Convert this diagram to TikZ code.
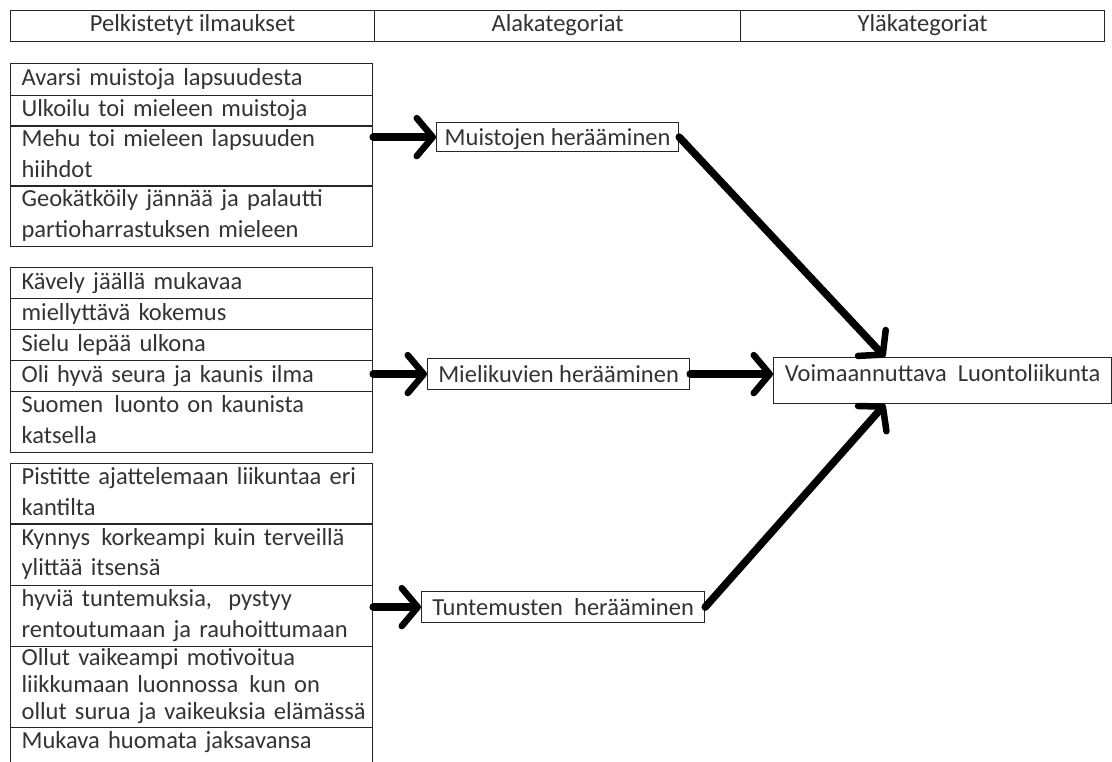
\documentclass[tikz,border=0pt]{standalone}
\usepackage{fontspec}
\setmainfont{Carlito}
\usetikzlibrary{arrows.meta,calc}
\tikzset{
  base/.style={font=\fontsize{24.5}{30.5}\selectfont, text=black!80, draw=black!85, line width=1.2pt},
  cell/.style={base, anchor=north west, text width=340pt, align=left, inner xsep=11pt, inner ysep=0pt},
  head/.style={base, anchor=north west, align=center, inner ysep=0pt, text height=21pt, text depth=10pt},
  catbox/.style={base, anchor=north west, align=center, inner xsep=4pt, inner ysep=0pt, text height=23.5pt, text depth=7.5pt},
  bigarrow/.style={line width=7.5pt, line cap=round, black,
    -{Straight Barb[length=16pt,width=38pt,line width=6.5pt,round]}}
}
\newcommand{\oneline}[1]{\strut #1\strut}
\newcommand{\wsp}{\ \hspace{3pt}}
\begin{document}
\begin{tikzpicture}[x=1pt,y=-1pt]
\useasboundingbox (0,0) rectangle (1112,762);
\clip (0,0) rectangle (1112,762);
% header
\node[head, minimum width=364pt, minimum height=31pt] (h1) at (10,10) {Pelkistetyt ilmaukset};
\node[head, minimum width=366pt, minimum height=31pt] (h2) at (374,10) {Alakategoriat};
\node[head, minimum width=364pt, minimum height=31pt] (h3) at (740,10) {Yläkategoriat};
% group 1
\node[cell, minimum height=32pt] (g1a) at (10,63) {\oneline{Avarsi muistoja lapsuudesta}};
\node[cell, minimum height=30pt] (g1b) at (10,95) {\oneline{Ulkoilu toi mieleen muistoja}};
\node[cell, minimum height=60pt] (g1c) at (10,125) {\strut Mehu toi mieleen lapsuuden\\ hiihdot\strut};
\node[cell, minimum height=60pt] (g1d) at (10,185) {\strut Geokätköily jännää ja palautti\\ partioharrastuksen mieleen\strut};
% group 2
\node[cell, minimum height=31pt] (g2a) at (10,267) {\oneline{Kävely jäällä mukavaa}};
\node[cell, minimum height=31pt] (g2b) at (10,298) {\oneline{miellyttävä kokemus}};
\node[cell, minimum height=31pt] (g2c) at (10,329) {\oneline{Sielu lepää ulkona}};
\node[cell, minimum height=31pt] (g2d) at (10,360) {\oneline{Oli hyvä seura ja kaunis ilma}};
\node[cell, minimum height=60pt] (g2e) at (10,391) {\strut Suomen\wsp luonto on kaunista\\ katsella\strut};
% group 3
\node[cell, minimum height=60pt] (g3a) at (10,463) {\strut\mbox{Pistitte ajattelemaan liikuntaa eri}\\ kantilta\strut};
\node[cell, minimum height=62pt] (g3b) at (10,523) {\strut Kynnys\wsp korkeampi kuin terveillä\\ ylittää itsensä\strut};
\node[cell, minimum height=61pt] (g3c) at (10,585) {\strut hyviä tuntemuksia,\ \ pystyy\\ rentoutumaan ja rauhoittumaan\strut};
\node[cell, minimum height=81pt, font=\fontsize{24.5}{27}\selectfont] (g3d) at (10,646) {\strut\mbox{Ollut vaikeampi motivoitua}\\ \mbox{liikkumaan luonnossa\wsp kun on}\\ \mbox{ollut surua ja vaikeuksia elämässä}\strut};
\node[cell, minimum height=60pt] (g3e) at (10,727) {\strut Mukava huomata jaksavansa\\ \strut};
% categories
\node[catbox, minimum width=242pt, text height=22.5pt, text depth=6.5pt] (mui) at (436,122) {Muistojen herääminen};
\node[catbox, minimum width=262pt] (mie) at (427,358) {Mielikuvien herääminen};
\node[catbox, minimum width=283pt] (tun) at (421,591) {Tuntemusten\ \ herääminen};
\node[catbox, minimum width=338pt, text height=24pt, text depth=22pt] (voim) at (773,357) {Voimaannuttava\ \ Luontoliikunta};
% arrows
\draw[bigarrow] (mui.west -| g1c.east) -- (mui.west);
\draw[bigarrow] (mie.west -| g2d.east) -- (mie.west);
\draw[bigarrow] (tun.west -| g3c.east) -- (tun.west);
\draw[bigarrow] (mui.east) -- ($(voim.north west)+(112,0)$);
\draw[bigarrow] (mie.east) -- (voim.west |- mie.east);
\draw[bigarrow] (tun.east) -- ($(voim.south west)+(112,0)$);
\end{tikzpicture}
\end{document}
